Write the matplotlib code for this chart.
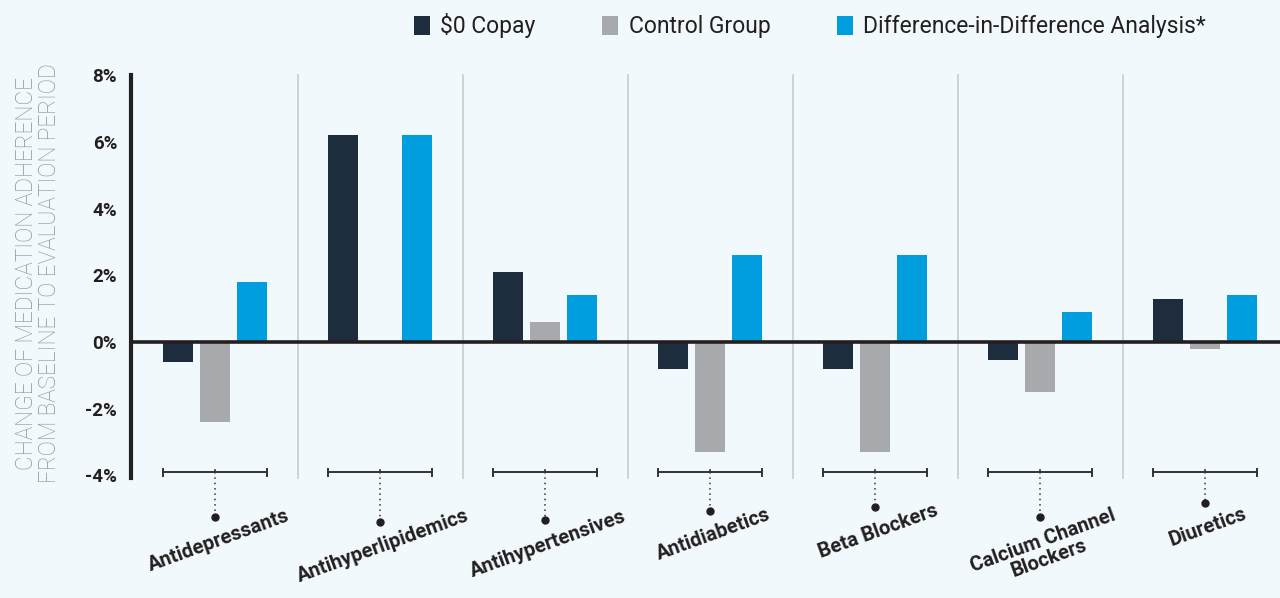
import numpy as np
import matplotlib.pyplot as plt
from matplotlib.patches import Patch

# =========================
# DATA
# =========================
CATEGORIES = ["Antidepressants", "Antihyperlipidemics", "Antihypertensives",
              "Antidiabetics", "Beta Blockers", "Calcium Channel\nBlockers", "Diuretics"]
COPAY = [-0.6, 6.2, 2.1, -0.8, -0.8, -0.55, 1.3]
CONTROL = [-2.4, 0.0, 0.6, -3.3, -3.3, -1.5, -0.2]
DID = [1.8, 6.2, 1.4, 2.6, 2.6, 0.9, 1.4]
SERIES_NAMES = ["$0 Copay", "Control Group", "Difference-in-Difference Analysis*"]
Y_TICKS = [-4, -2, 0, 2, 4, 6, 8]
Y_TICK_LABELS = [f"{t}%" for t in Y_TICKS]
Y_LABEL = "CHANGE OF MEDICATION ADHERENCE\nFROM BASELINE TO EVALUATION PERIOD"

# =========================
# STYLE
# =========================
BG = "#f2f9fc"
COLORS = ["#1e2d3d", "#a7a9ac", "#009ddf"]
DARK = "#231f20"
SEP = "#cdd0d3"
BAR_W = 0.182
OFFSET = 0.224
DROP = [-5.23, -5.38, -5.33, -5.05, -4.94, -5.23, -4.81]  # dot positions under bracket
BRACKET_Y = -3.9

plt.rcParams["font.family"] = ["Roboto", "DejaVu Sans"]

fig = plt.figure(figsize=(12.8, 5.98), dpi=100, facecolor=BG)
ax = fig.add_axes([131 / 1280, (598 - 475.5) / 598, (1280 - 131) / 1280, 400.5 / 598])
ax.set_facecolor(BG)

x = np.arange(len(CATEGORIES))
for k, vals in enumerate([COPAY, CONTROL, DID]):
    ax.bar(x + (k - 1) * OFFSET, vals, width=BAR_W, color=COLORS[k], zorder=2)

ax.set_xlim(-84 / 165, 6 + 75 / 165)
ax.set_ylim(-4, 8)

# separators between groups
for i in range(len(CATEGORIES) - 1):
    ax.plot([i + 0.5, i + 0.5], [-4.08, 8], color=SEP, lw=1.3, zorder=1, clip_on=False)

ax.axhline(0, color=DARK, lw=2.6, zorder=3)

for s in ["top", "right", "bottom"]:
    ax.spines[s].set_visible(False)
ax.spines["left"].set_color(DARK)
ax.spines["left"].set_linewidth(3)
ax.spines["left"].set_bounds(-4.08, 8)

ax.set_xticks([])
ax.set_yticks(Y_TICKS)
ax.set_yticklabels(Y_TICK_LABELS, fontsize=13.5, fontweight="bold", color=DARK)
ax.tick_params(axis="y", length=0, pad=10)

# brackets, dotted drops, dots and category labels
for i, name in enumerate(CATEGORIES):
    half = 0.316
    ax.plot([i - half, i + half], [BRACKET_Y, BRACKET_Y], color="#333333", lw=1.4, clip_on=False)
    for xe in (i - half, i + half):
        ax.plot([xe, xe], [BRACKET_Y - 0.1, BRACKET_Y + 0.1], color="#333333", lw=1.4, clip_on=False)
    ax.plot([i, i], [BRACKET_Y, BRACKET_Y + 0.05], color="#333333", lw=1.2, clip_on=False)
    ax.plot([i, i], [BRACKET_Y, DROP[i]], color="#333333", lw=1.1, ls=(0, (1, 2.5)), clip_on=False)
    ax.plot(i, DROP[i], "o", color=DARK, ms=5, clip_on=False)
    ax.annotate(name, xy=(i, DROP[i]), xytext=(0, -11), textcoords="offset points",
                ha="center", va="top", rotation=20, rotation_mode="anchor",
                multialignment="center", fontsize=14.5, fontweight="bold", color=DARK,
                linespacing=0.95, annotation_clip=False)

fig.text(38 / 1280, 1 - 273 / 598, Y_LABEL, rotation=90, ha="center", va="center",
         multialignment="center", fontsize=16.3, fontweight="light", color="#8c9197",
         linespacing=0.95)

handles = [Patch(facecolor=c, edgecolor="none") for c in COLORS]
fig.legend(handles, SERIES_NAMES, loc="center", bbox_to_anchor=(810 / 1280, 1 - 26 / 598),
           ncol=3, frameon=False, fontsize=16.5, handlelength=0.7, handleheight=0.85,
           handletextpad=0.45, columnspacing=2.9, labelcolor=DARK)

fig.savefig("out.png", dpi=100, facecolor=BG)
